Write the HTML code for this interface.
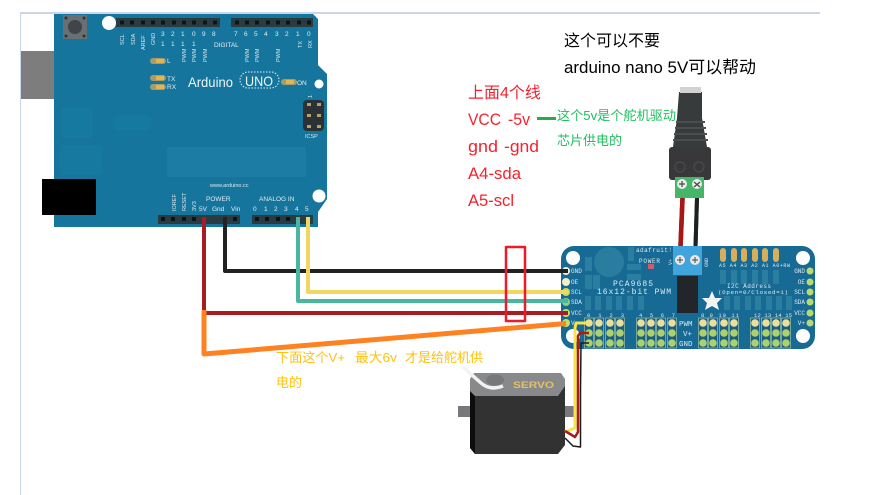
<!DOCTYPE html>
<html><head><meta charset="utf-8"><style>
html,body{margin:0;padding:0;background:#fff;width:873px;height:495px;overflow:hidden}
svg{display:block}
text{font-family:"Liberation Sans","Noto Sans CJK SC",sans-serif}
.s{font-size:5.5px;fill:#dfe9ef}
.m{font-size:6.5px;fill:#e4edf2}
.a text{font-family:"Liberation Mono","Noto Sans CJK SC",monospace;fill:#dfeaf0}
</style></head><body>
<svg width="873" height="495" viewBox="0 0 873 495" xmlns="http://www.w3.org/2000/svg">
<defs><filter id="b" x="-5%" y="-5%" width="110%" height="110%"><feGaussianBlur stdDeviation="0.35"/></filter></defs>
<rect x="20" y="12" width="800" height="2" fill="#c9d6ea"/>
<rect x="20" y="13" width="1" height="482" fill="#c9d6ea"/>

<!-- Arduino -->
<g filter="url(#b)">
<rect x="21" y="51" width="67" height="48" fill="#7d7d7d"/>
<polygon points="54,14 313,14 318,19 318,65 327,74 327,199 318,212 318,227 54,227" fill="#15759c"/>
<rect x="62" y="108" width="30" height="30" fill="#18799f"/>
<rect x="112" y="115" width="40" height="16" rx="8" fill="#18799f"/>
<rect x="167" y="147" width="139" height="30" fill="#1a7ca3"/>
<rect x="60" y="145" width="42" height="30" fill="#18799f"/>
<rect x="42" y="179" width="54" height="36" fill="#000"/>
<rect x="63" y="15" width="24" height="24" fill="#686f72"/>
<circle cx="75" cy="27" r="7" fill="#3f4448"/>
<circle cx="66" cy="18" r="1.5" fill="#333"/><circle cx="84" cy="18" r="1.5" fill="#333"/><circle cx="66" cy="36" r="1.5" fill="#333"/><circle cx="84" cy="36" r="1.5" fill="#333"/>
<circle cx="109" cy="23" r="7" fill="#fff"/>
<circle cx="319" cy="84" r="4.5" fill="#fff"/>
<circle cx="319" cy="196" r="6.5" fill="#fff"/>
<rect x="116" y="18" width="104" height="9" fill="#2b3a42"/>
<rect x="231" y="18" width="82" height="9" fill="#2b3a42"/>
<rect x="158" y="215" width="82" height="9" fill="#2b3a42"/>
<rect x="252" y="215" width="61" height="9" fill="#2b3a42"/>
<g fill="#0d1518">
<rect x="120" y="20.500" width="4" height="4"/><rect x="130" y="20.500" width="4" height="4"/><rect x="141" y="20.500" width="4" height="4"/><rect x="151" y="20.500" width="4" height="4"/><rect x="161" y="20.500" width="4" height="4"/><rect x="172" y="20.500" width="4" height="4"/><rect x="182" y="20.500" width="4" height="4"/><rect x="192" y="20.500" width="4" height="4"/><rect x="203" y="20.500" width="4" height="4"/><rect x="213" y="20.500" width="4" height="4"/>
<rect x="235" y="20.500" width="4" height="4"/><rect x="245" y="20.500" width="4" height="4"/><rect x="255" y="20.500" width="4" height="4"/><rect x="266" y="20.500" width="4" height="4"/><rect x="276" y="20.500" width="4" height="4"/><rect x="286" y="20.500" width="4" height="4"/><rect x="297" y="20.500" width="4" height="4"/><rect x="307" y="20.500" width="4" height="4"/>
<rect x="161" y="217" width="4" height="4"/><rect x="171" y="217" width="4" height="4"/><rect x="182" y="217" width="4" height="4"/><rect x="192" y="217" width="4" height="4"/><rect x="233" y="217" width="4" height="4"/>
<rect x="255" y="217" width="4" height="4"/><rect x="265" y="217" width="4" height="4"/><rect x="276" y="217" width="4" height="4"/><rect x="286" y="217" width="4" height="4"/>
</g>
<rect x="150" y="58" width="16" height="6" rx="3" fill="#a89a6a"/><rect x="156" y="59" width="8" height="4" fill="#e3b54f"/>
<rect x="150" y="75" width="16" height="6" rx="3" fill="#a89a6a"/><rect x="156" y="76" width="8" height="4" fill="#e3b54f"/>
<rect x="150" y="84" width="16" height="6" rx="3" fill="#a89a6a"/><rect x="156" y="85" width="8" height="4" fill="#e3b54f"/>
<rect x="281" y="79" width="16" height="6" rx="3" fill="#a89a6a"/><rect x="286" y="80" width="8" height="4" fill="#e3b54f"/>
<rect x="303" y="100" width="21" height="31" rx="4" fill="#2b3035"/>
<g fill="#b9a06a"><rect x="307" y="103" width="4" height="3"/><rect x="317" y="103" width="4" height="3"/><rect x="307" y="114" width="4" height="3"/><rect x="317" y="114" width="4" height="3"/><rect x="307" y="125" width="4" height="3"/><rect x="317" y="125" width="4" height="3"/></g>
<text x="188" y="87" font-size="14" fill="#eef5f8" textLength="45" lengthAdjust="spacingAndGlyphs">Arduino</text>
<rect x="240" y="72" width="39" height="16" rx="8" fill="none" stroke="#e6f0f5" stroke-dasharray="1.500 1.500"/>
<text x="245" y="86" font-size="14" fill="#eef5f8" textLength="28" lengthAdjust="spacingAndGlyphs">UNO</text>
<text x="167" y="63" class="m">L</text><text x="167" y="81" class="m">TX</text><text x="167" y="89" class="m">RX</text><text x="297" y="85" class="m">ON</text>
<text x="305" y="138" class="s">ICSP</text>
<text x="214" y="47" class="m">DIGITAL</text>
<text x="161" y="36" class="m">3</text><text x="171" y="36" class="m">2</text><text x="181" y="36" class="m">1</text><text x="192" y="36" class="m">0</text><text x="202" y="36" class="m">9</text><text x="212" y="36" class="m">8</text><text x="161" y="46" class="m">1</text><text x="171" y="46" class="m">1</text><text x="181" y="46" class="m">1</text><text x="192" y="46" class="m">1</text>
<text x="234" y="36" class="m">7</text><text x="244" y="36" class="m">6</text><text x="254" y="36" class="m">5</text><text x="264" y="36" class="m">4</text><text x="275" y="36" class="m">3</text><text x="285" y="36" class="m">2</text><text x="296" y="36" class="m">1</text><text x="307" y="36" class="m">0</text>
<text class="s" transform="translate(124,45) rotate(-90)">SCL</text><text class="s" transform="translate(135,45) rotate(-90)">SDA</text><text class="s" transform="translate(145,50) rotate(-90)">AREF</text><text class="s" transform="translate(155,45) rotate(-90)">GND</text>
<text class="s" transform="translate(186,62) rotate(-90)">PWM</text><text class="s" transform="translate(196,62) rotate(-90)">PWM</text><text class="s" transform="translate(207,62) rotate(-90)">PWM</text><text class="s" transform="translate(249,62) rotate(-90)">PWM</text><text class="s" transform="translate(259,62) rotate(-90)">PWM</text><text class="s" transform="translate(280,62) rotate(-90)">PWM</text>
<text class="s" transform="translate(302,48) rotate(-90)">TX</text><text class="s" transform="translate(312,48) rotate(-90)">RX</text><text class="s" transform="translate(312,98) rotate(-90)">1</text>
<text class="s" transform="translate(176,211) rotate(-90)">IOREF</text><text class="s" transform="translate(186,211) rotate(-90)">RESET</text><text class="s" transform="translate(196,211) rotate(-90)">3V3</text>
<text x="210" y="187" class="s">www.arduino.cc</text>
<text x="206" y="201" class="m">POWER</text><text x="259" y="201" class="m">ANALOG IN</text>
<text x="199" y="211" class="m">5V</text><text x="212" y="211" class="m">Gnd</text><text x="231" y="211" class="m">Vin</text>
<text x="253" y="211" class="m">0</text><text x="264" y="211" class="m">1</text><text x="274" y="211" class="m">2</text><text x="284" y="211" class="m">3</text><text x="295" y="211" class="m">4</text><text x="305" y="211" class="m">5</text>
</g>

<!-- DC jack -->
<g filter="url(#b)">
<path d="M682.500 198 680.500 247" stroke="#a81818" stroke-width="4.500"/>
<path d="M697 198 695.500 247" stroke="#1f2022" stroke-width="4"/>
<polygon points="679,92 702,92 702,118 707,147 673,147 677,118" fill="#383a3b"/>
<rect x="680" y="87" width="21" height="6" fill="#d2d2d2"/>
<rect x="676" y="121" width="29" height="2" fill="#4c4e4f"/><rect x="675" y="127" width="31" height="2" fill="#4c4e4f"/><rect x="674" y="133" width="33" height="2" fill="#4c4e4f"/><rect x="673" y="139" width="35" height="2" fill="#4c4e4f"/>
<rect x="669" y="147" width="42" height="33" rx="3" fill="#38393a"/>
<circle cx="680" cy="167" r="5" fill="none" stroke="#4d4e4f"/><circle cx="699" cy="167" r="5" fill="none" stroke="#4d4e4f"/>
<rect x="675" y="177" width="29" height="21" fill="#45b56a"/>
<circle cx="682" cy="184" r="5" fill="#ececec"/><circle cx="697" cy="184" r="5" fill="#ececec"/>
<path d="M679 184h6M682 181v6M694 182l6 5M700 182l-6 5" stroke="#444" stroke-width="1.200"/>
<path d="M682.500 198 680.500 247" stroke="#a81818" stroke-width="4.500"/>
<path d="M697 198 695.500 247" stroke="#1f2022" stroke-width="4"/>
</g>

<!-- PCA9685 -->
<g filter="url(#b)">
<rect x="561" y="246" width="254" height="103" rx="13" fill="#176a94"/>
<circle cx="573" cy="258" r="7" fill="#fff"/><circle cx="803" cy="258" r="7" fill="#fff"/><circle cx="573" cy="336" r="7" fill="#fff"/><circle cx="803" cy="336" r="7" fill="#fff"/>
<circle cx="609" cy="262" r="15" fill="#2a7d9f"/>
<rect x="673" y="246" width="29" height="29" fill="#3fa5dc"/>
<circle cx="680" cy="260" r="5" fill="#e8e8e8"/><circle cx="695" cy="260" r="5" fill="#e8e8e8"/>
<path d="M677 260h6M680 257v6M692 260h6M695 257v6" stroke="#444"/>
<rect x="677" y="276" width="21" height="37" fill="#22272b"/>
<rect x="648" y="264" width="6" height="5" fill="#c7616a"/>
<polygon points="712,291 715,298 722,298 717,303 719,310 712,306 705,310 707,303 702,298 709,298" fill="#f2f2f2"/>
<g fill="#2a7fa0">
<rect x="585" y="257" width="7" height="14"/><rect x="628" y="247" width="6" height="14"/><rect x="627" y="264" width="14" height="6"/><rect x="627" y="274" width="14" height="6"/><rect x="585" y="275" width="7" height="14"/><rect x="593" y="275" width="7" height="14"/>
<rect x="585" y="296" width="6" height="14"/><rect x="595" y="296" width="6" height="14"/><rect x="606" y="296" width="6" height="14"/><rect x="616" y="296" width="6" height="14"/><rect x="627" y="296" width="6" height="14"/><rect x="638" y="296" width="6" height="14"/>
<rect x="724" y="296" width="6" height="14"/><rect x="734" y="296" width="6" height="14"/><rect x="745" y="296" width="6" height="14"/><rect x="755" y="296" width="6" height="14"/><rect x="766" y="296" width="6" height="14"/><rect x="776" y="296" width="6" height="14"/><rect x="786" y="296" width="6" height="14"/>
<rect x="720" y="270" width="6" height="14"/><rect x="731" y="270" width="6" height="14"/><rect x="741" y="270" width="6" height="14"/><rect x="752" y="270" width="6" height="14"/><rect x="762" y="270" width="6" height="14"/><rect x="773" y="270" width="6" height="14"/>
</g>
<g fill="#d6ae5b"><rect x="720" y="248" width="6" height="14" rx="3"/><rect x="731" y="248" width="6" height="14" rx="3"/><rect x="741" y="248" width="6" height="14" rx="3"/><rect x="752" y="248" width="6" height="14" rx="3"/><rect x="762" y="248" width="6" height="14" rx="3"/><rect x="773" y="248" width="6" height="14" rx="3"/></g>
<g fill="#1b5f83" stroke="#8fb7a0" stroke-width="0.800">
<rect x="584.500" y="318" width="9" height="30"/><rect x="594.500" y="318" width="9" height="30"/><rect x="605.500" y="318" width="9" height="30"/><rect x="615.500" y="318" width="9" height="30"/>
<rect x="636.500" y="318" width="9" height="30"/><rect x="646.500" y="318" width="9" height="30"/><rect x="656.500" y="318" width="9" height="30"/><rect x="667.500" y="318" width="9" height="30"/>
<rect x="698.500" y="318" width="9" height="30"/><rect x="708.500" y="318" width="9" height="30"/><rect x="719.500" y="318" width="9" height="30"/><rect x="729.500" y="318" width="9" height="30"/>
<rect x="750.500" y="318" width="9" height="30"/><rect x="761.500" y="318" width="9" height="30"/><rect x="771.500" y="318" width="9" height="30"/><rect x="781.500" y="318" width="9" height="30"/>
</g>
<g fill="#ecdf9b">
<circle cx="589" cy="323" r="3.800"/><circle cx="599" cy="323" r="3.800"/><circle cx="610" cy="323" r="3.800"/><circle cx="620" cy="323" r="3.800"/><circle cx="641" cy="323" r="3.800"/><circle cx="651" cy="323" r="3.800"/><circle cx="661" cy="323" r="3.800"/><circle cx="672" cy="323" r="3.800"/><circle cx="703" cy="323" r="3.800"/><circle cx="713" cy="323" r="3.800"/><circle cx="724" cy="323" r="3.800"/><circle cx="734" cy="323" r="3.800"/><circle cx="755" cy="323" r="3.800"/><circle cx="766" cy="323" r="3.800"/><circle cx="776" cy="323" r="3.800"/><circle cx="786" cy="323" r="3.800"/>
</g>
<g fill="#add26c">
<circle cx="589" cy="333" r="3.800"/><circle cx="599" cy="333" r="3.800"/><circle cx="610" cy="333" r="3.800"/><circle cx="620" cy="333" r="3.800"/><circle cx="641" cy="333" r="3.800"/><circle cx="651" cy="333" r="3.800"/><circle cx="661" cy="333" r="3.800"/><circle cx="672" cy="333" r="3.800"/><circle cx="703" cy="333" r="3.800"/><circle cx="713" cy="333" r="3.800"/><circle cx="724" cy="333" r="3.800"/><circle cx="734" cy="333" r="3.800"/><circle cx="755" cy="333" r="3.800"/><circle cx="766" cy="333" r="3.800"/><circle cx="776" cy="333" r="3.800"/><circle cx="786" cy="333" r="3.800"/>
<circle cx="589" cy="343" r="3.800"/><circle cx="599" cy="343" r="3.800"/><circle cx="610" cy="343" r="3.800"/><circle cx="620" cy="343" r="3.800"/><circle cx="641" cy="343" r="3.800"/><circle cx="651" cy="343" r="3.800"/><circle cx="661" cy="343" r="3.800"/><circle cx="672" cy="343" r="3.800"/><circle cx="703" cy="343" r="3.800"/><circle cx="713" cy="343" r="3.800"/><circle cx="724" cy="343" r="3.800"/><circle cx="734" cy="343" r="3.800"/><circle cx="755" cy="343" r="3.800"/><circle cx="766" cy="343" r="3.800"/><circle cx="776" cy="343" r="3.800"/><circle cx="786" cy="343" r="3.800"/>
</g>
<g fill="#f2eecb"><circle cx="566" cy="271" r="4"/><circle cx="566" cy="282" r="4"/><circle cx="566" cy="292" r="4" fill="#c8dc60"/><circle cx="566" cy="302" r="4" fill="#8dcf7e"/><circle cx="566" cy="313" r="4" fill="#c8dc60"/><circle cx="566" cy="323" r="4" fill="#c8dc60"/></g>
<g fill="#bcd96e"><circle cx="810" cy="271" r="3.500"/><circle cx="810" cy="282" r="3.500"/><circle cx="810" cy="292" r="3.500"/><circle cx="810" cy="302" r="3.500"/><circle cx="810" cy="313" r="3.500"/><circle cx="810" cy="323" r="3.500"/></g>
<g class="a" font-size="6">
<text x="571" y="273">GND</text><text x="571" y="284">OE</text><text x="571" y="294">SCL</text><text x="571" y="304">SDA</text><text x="571" y="315">VCC</text><text x="571" y="325">V+</text>
<text x="805" y="273" text-anchor="end">GND</text><text x="805" y="284" text-anchor="end">OE</text><text x="805" y="294" text-anchor="end">SCL</text><text x="805" y="304" text-anchor="end">SDA</text><text x="805" y="315" text-anchor="end">VCC</text><text x="805" y="325" text-anchor="end">V+</text>
<text x="636" y="252" textLength="36">adafruit!</text><text x="639" y="263" textLength="21">POWER</text>
<text x="719" y="267" font-size="5" textLength="71">A5 A4 A3 A2 A1 A0+RW</text>
<text x="727" y="288" textLength="44">I2C Address</text><text x="718" y="294" font-size="5.800" textLength="70">(Open=0/Closed=1)</text>
<text x="613" y="286" font-size="8" textLength="40">PCA9685</text><text x="597" y="294" font-size="8" textLength="74">16x12-bit PWM</text>
<text x="679" y="326" font-size="7.500">PWM</text><text x="683" y="336" font-size="7.500">V+</text><text x="679" y="346" font-size="7.500">GND</text>
<text x="587" y="317" font-size="5.500" textLength="37">0 1 2 3</text><text x="639" y="317" font-size="5.500" textLength="36">4 5 6 7</text><text x="701" y="317" font-size="5.500" textLength="38">8 9 10 11</text><text x="754" y="317" font-size="5.500" textLength="38">12 13 14 15</text>
<text transform="translate(672,265) rotate(-90)" font-size="5">V+</text><text transform="translate(708,267) rotate(-90)" font-size="5">GND</text>
</g>
</g>

<!-- Servo -->
<g filter="url(#b)">
<rect x="458" y="406" width="116" height="11" fill="#77797b"/>
<polygon points="470,385 475,373 560,373 565,385 565,445 558,454 475,454 470,448" fill="#303132"/>
<polygon points="470,391 475,396 475,454 470,448" fill="#111"/>
<polygon points="470,391 470,379 474,373 561,373 565,379 565,386 558,396 475,396" fill="#88898b"/>
<path d="M463 367 481 383 Q490 391 503 386" fill="none" stroke="#f2f2f2" stroke-width="3.500"/>
<ellipse cx="495" cy="380" rx="9" ry="5.500" fill="#77787a"/>
<text x="513" y="388" font-size="9" font-weight="bold" fill="#e3c169" textLength="41" lengthAdjust="spacingAndGlyphs">SERVO</text>
</g>

<!-- Wires -->
<g fill="none" stroke-linejoin="round" filter="url(#b)">
<path d="M225 217V271H568" stroke="#222" stroke-width="4"/>
<path d="M298 217V301H568" stroke="#4ab7a0" stroke-width="4"/>
<path d="M308 217V292H568" stroke="#f2d662" stroke-width="4"/>
<path d="M204 217V313H568" stroke="#a81c24" stroke-width="4"/>
<path d="M204 310V354L566 323.500" stroke="#ff8224" stroke-width="5"/>
<rect x="506" y="247" width="19" height="74" stroke="#ea1c2c" stroke-width="2.500"/>
<path d="M589 323H576L575 328V428L565 432" stroke="#f6e24e" stroke-width="3"/>
<path d="M589 333H580L578 336V432L575 437 565 431" stroke="#a81c1c" stroke-width="2.500"/>
<path d="M589 343H581L580.500 392V447L573 446 565 438" stroke="#1c1c1c" stroke-width="1.500"/>
</g>

<!-- Labels -->
<text x="564" y="46" font-size="16" fill="#000">这个可以不要</text>
<text x="564" y="73" font-size="17" fill="#000" textLength="192" lengthAdjust="spacingAndGlyphs">arduino nano 5V可以帮动</text>
<g font-size="17" fill="#f5222d">
<text x="468" y="98" font-size="16">上面4个线</text>
<text x="468" y="125" textLength="33" lengthAdjust="spacingAndGlyphs">VCC</text>
<text x="508" y="125" textLength="22" lengthAdjust="spacingAndGlyphs">-5v</text>
<text x="468" y="152" textLength="30" lengthAdjust="spacingAndGlyphs">gnd</text>
<text x="504" y="152" textLength="35" lengthAdjust="spacingAndGlyphs">-gnd</text>
<text x="468" y="179" textLength="53" lengthAdjust="spacingAndGlyphs">A4-sda</text>
<text x="468" y="206" textLength="46" lengthAdjust="spacingAndGlyphs">A5-scl</text>
</g>
<rect x="537" y="117" width="19" height="3" fill="#2aa84a"/>
<g font-size="13" fill="#1fbf5f">
<text x="557" y="120" textLength="119" lengthAdjust="spacingAndGlyphs">这个5v是个舵机驱动</text>
<text x="557" y="145">芯片供电的</text>
</g>
<g font-size="13" fill="#ffc20e">
<text x="276" y="362" textLength="69" lengthAdjust="spacingAndGlyphs">下面这个V+</text>
<text x="355" y="362" textLength="42" lengthAdjust="spacingAndGlyphs">最大6v</text>
<text x="405" y="362">才是给舵机供</text>
<text x="276" y="387">电的</text>
</g>
</svg>
</body></html>
